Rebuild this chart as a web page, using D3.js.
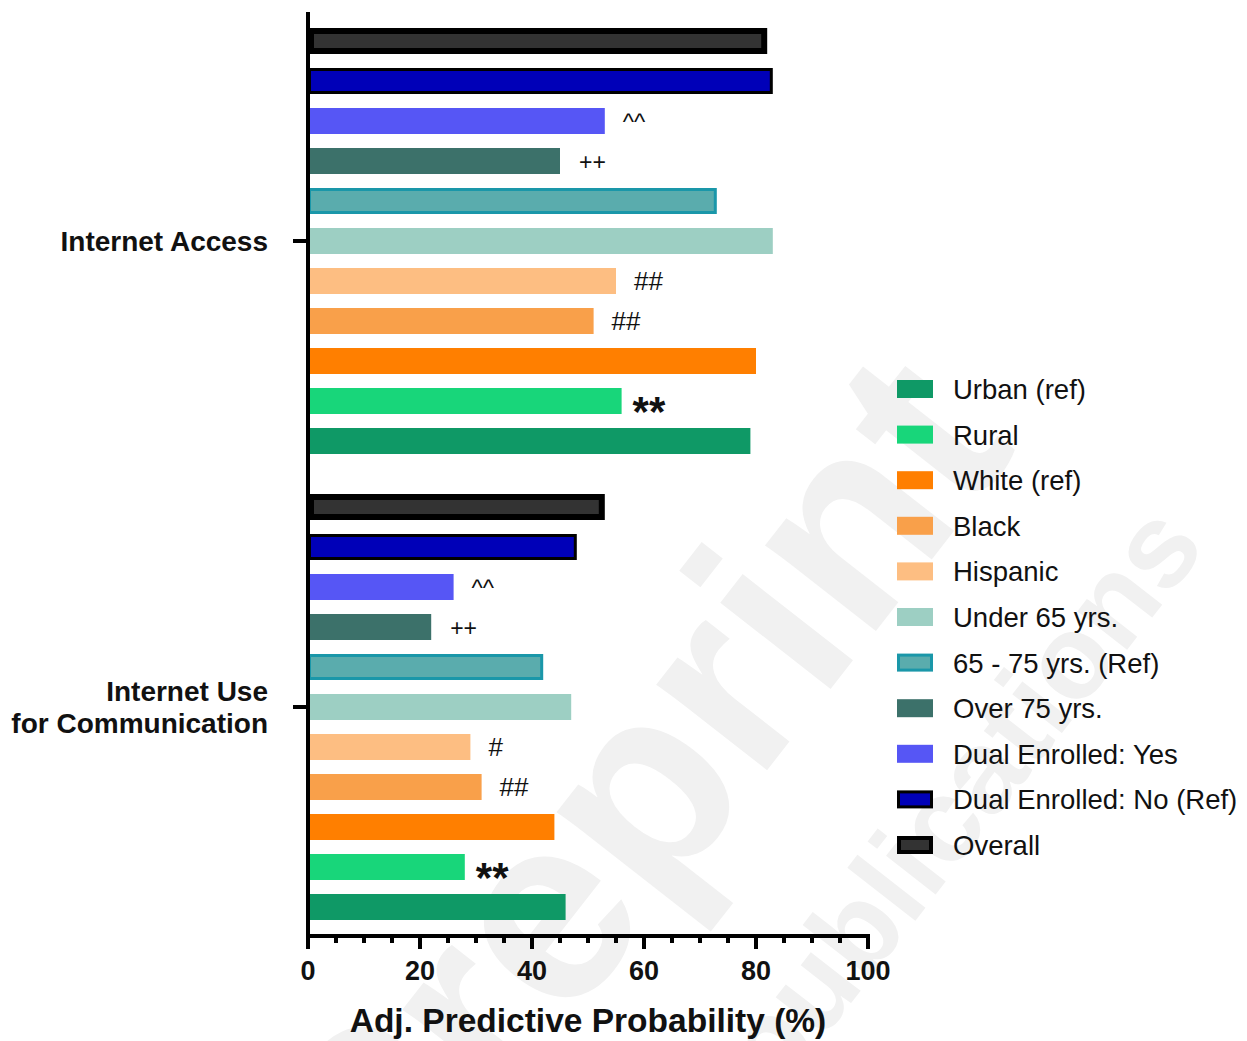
<!DOCTYPE html>
<html>
<head>
<meta charset="utf-8">
<script src="https://cdn.jsdelivr.net/npm/d3@7"></script>
<style>
  html, body { margin: 0; padding: 0; background: #fff; }
  svg { display: block; font-family: "Liberation Sans", Arial, sans-serif; }
</style>
</head>
<body>
<svg id="chart" width="1247" height="1041"></svg>
<script>
// Outcomes (y groups) and subgroups, listed top to bottom within each group
const outcomes = ["Internet Access", "Internet Use for Communication"];
const outcomeLines = [["Internet Access"], ["Internet Use", "for Communication"]];
const subgroups = ["Overall", "Dual Enrolled: No (Ref)", "Dual Enrolled: Yes", "Over 75 yrs.",
  "65 - 75 yrs. (Ref)", "Under 65 yrs.", "Hispanic", "Black", "White (ref)", "Rural", "Urban (ref)"];

// Adjusted predictive probability (%), same order as subgroups
const accessValues = [82, 83, 53, 45, 73, 83, 55, 51, 80, 56, 79];
const commValues   = [53, 48, 26, 22, 42, 47, 29, 31, 44, 28, 46];

// Significance markers, same order as subgroups
const accessMarks = ["", "", "^^", "++", "", "", "##", "##", "", "**", ""];
const commMarks   = ["", "", "^^", "++", "", "", "#", "##", "", "**", ""];

const xTicks = [0, 20, 40, 60, 80, 100];

const fills   = ["#333333", "#0000b8", "#5656f5", "#3c716a", "#5aacad", "#9dcfc3", "#fdbe82", "#f9a04a", "#ff7f00", "#18d67a", "#0f9966"];
const strokes = ["#000000", "#000000", "none", "none", "#1a97a9", "none", "none", "none", "none", "none", "none"];
const strokeW = [6, 3, 0, 0, 3, 0, 0, 0, 0, 0, 0];

// Marker glyph styling
const markStyle = {
  "^^": { size: 24, weight: "normal", dy: "0.38em", gap: 18 },
  "++": { size: 23, weight: "normal", dy: "0.37em", gap: 19 },
  "##": { size: 26, weight: "normal", dy: "0.35em", gap: 18 },
  "#":  { size: 26, weight: "normal", dy: "0.35em", gap: 18 },
  "**": { size: 42, weight: "bold",   dy: "0.6em",  gap: 11 }
};

const rows = [];
[accessValues, commValues].forEach(function (vals, gi) {
  vals.forEach(function (v, i) {
    rows.push({
      outcome: outcomes[gi], sub: subgroups[i], value: v, idx: i,
      mark: (gi === 0 ? accessMarks : commMarks)[i]
    });
  });
});

const svg = d3.select("#chart");

// Faint background watermark
const wm = svg.append("g").attr("fill", "#f1f1f1").attr("font-weight", "bold");
wm.append("text").attr("transform", "translate(393,1249) rotate(-52)")
  .attr("font-size", 265).text("Preprint");
wm.append("text").attr("transform", "translate(776,1099) rotate(-52)")
  .attr("font-size", 119).text("publications");

const x = d3.scaleLinear().domain([0, 100]).range([308, 868]);
const y0 = d3.scaleBand().domain(outcomes).range([28, 920]).paddingInner(40 / 466).paddingOuter(0);
const y1 = d3.scaleBand().domain(subgroups).range([0, y0.bandwidth()]).paddingInner(0.35).paddingOuter(0);

function barTop(r) { return y0(r.outcome) + y1(r.sub); }

// Bars
const bars = svg.append("g");
bars.selectAll("rect").data(rows).join("rect")
  .attr("x", function (r) { return x(0) + strokeW[r.idx] / 2; })
  .attr("y", function (r) { return barTop(r) + strokeW[r.idx] / 2; })
  .attr("width", function (r) { return x(r.value) - x(0) - strokeW[r.idx]; })
  .attr("height", function (r) { return y1.bandwidth() - strokeW[r.idx]; })
  .attr("fill", function (r) { return fills[r.idx]; })
  .attr("stroke", function (r) { return strokes[r.idx]; })
  .attr("stroke-width", function (r) { return strokeW[r.idx]; });

// Significance markers
const marked = rows.filter(function (r) { return r.mark !== ""; });
svg.append("g").selectAll("text").data(marked).join("text")
  .attr("x", function (r) { return x(r.value) + markStyle[r.mark].gap; })
  .attr("y", function (r) { return barTop(r) + y1.bandwidth() / 2; })
  .attr("dy", function (r) { return markStyle[r.mark].dy; })
  .attr("font-size", function (r) { return markStyle[r.mark].size; })
  .attr("font-weight", function (r) { return markStyle[r.mark].weight; })
  .attr("fill", "#111")
  .text(function (r) { return r.mark; });

// X axis
const minorTicks = d3.range(5, 100, 5).filter(function (v) { return v % 20 !== 0; });
const xAxisG = svg.append("g").attr("transform", "translate(0,936)");
xAxisG.append("line").attr("x1", x(0) - 2).attr("x2", x(100) + 2)
  .attr("stroke", "#000").attr("stroke-width", 4);
xAxisG.selectAll("line.minor").data(minorTicks).join("line")
  .attr("class", "minor")
  .attr("x1", function (v) { return x(v); }).attr("x2", function (v) { return x(v); })
  .attr("y1", 0).attr("y2", 7)
  .attr("stroke", "#000").attr("stroke-width", 4);
xAxisG.selectAll("line.major").data(xTicks).join("line")
  .attr("class", "major")
  .attr("x1", function (v) { return x(v); }).attr("x2", function (v) { return x(v); })
  .attr("y1", 0).attr("y2", 13)
  .attr("stroke", "#000").attr("stroke-width", 4);
xAxisG.selectAll("text").data(xTicks).join("text")
  .attr("x", function (v) { return x(v); }).attr("y", 44)
  .attr("text-anchor", "middle").attr("font-size", 27).attr("font-weight", "bold")
  .attr("fill", "#111").text(function (v) { return v; });

svg.append("text").attr("x", 588).attr("y", 1032)
  .attr("text-anchor", "middle").attr("font-size", 33.5).attr("font-weight", "bold")
  .attr("fill", "#111").text("Adj. Predictive Probability (%)");

// Y axis
const yAxisG = svg.append("g");
yAxisG.append("line").attr("x1", x(0)).attr("x2", x(0)).attr("y1", 12).attr("y2", 938)
  .attr("stroke", "#000").attr("stroke-width", 4);
outcomes.forEach(function (o, i) {
  const cy = y0(o) + y0.bandwidth() / 2;
  yAxisG.append("line").attr("x1", x(0) - 15).attr("x2", x(0)).attr("y1", cy).attr("y2", cy)
    .attr("stroke", "#000").attr("stroke-width", 4);
  const lines = outcomeLines[i];
  const t = yAxisG.append("text").attr("x", 268).attr("text-anchor", "end")
    .attr("font-size", 28).attr("font-weight", "bold").attr("fill", "#111");
  lines.forEach(function (ln, j) {
    t.append("tspan").attr("x", 268)
      .attr("y", cy + (j - (lines.length - 1) / 2) * 32 + 10).text(ln);
  });
});

// Legend (bottom subgroup first)
const legendOrder = subgroups.map(function (s, i) { return i; }).reverse();
const legend = svg.append("g");
legendOrder.forEach(function (idx, k) {
  const cy = 389 + k * 45.6;
  const sw = Math.min(strokeW[idx], 4);
  legend.append("rect")
    .attr("x", 897 + sw / 2).attr("y", cy - 9 + sw / 2)
    .attr("width", 36 - sw).attr("height", 18 - sw)
    .attr("fill", fills[idx]).attr("stroke", strokes[idx]).attr("stroke-width", sw);
  legend.append("text").attr("x", 953).attr("y", cy + 10)
    .attr("font-size", 27.5).attr("fill", "#111").text(subgroups[idx]);
});
</script>
</body>
</html>
